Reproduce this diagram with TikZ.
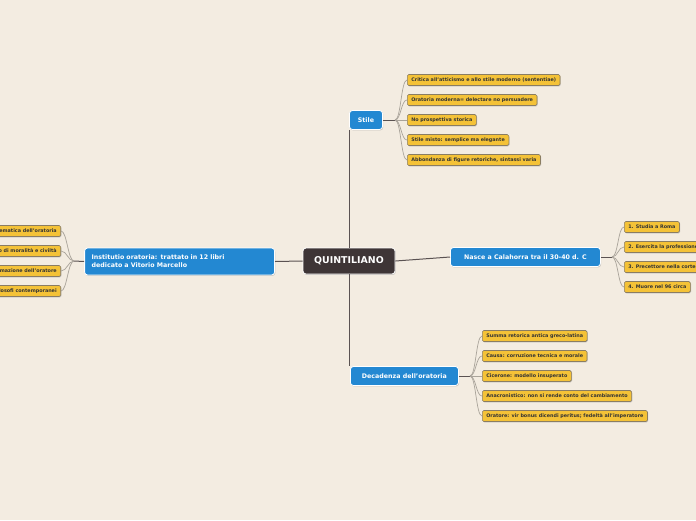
\documentclass[tikz,border=0pt]{standalone}
\usepackage{fontspec}
\setmainfont{DejaVu Sans}
\usetikzlibrary{shadows}
\definecolor{bg}{HTML}{F3ECE1}
\definecolor{leafc}{HTML}{F4C237}
\definecolor{leafb}{HTML}{8A7D62}
\definecolor{blu}{HTML}{2388D2}
\definecolor{dark}{HTML}{3E3536}
\definecolor{mainline}{HTML}{5A5252}
\definecolor{fanline}{HTML}{A9A39A}
\begin{document}
\begin{tikzpicture}[x=1pt,y=-1pt,
  leafbox/.style={draw=leafb, fill=leafc, line width=0.6pt, rounded corners=1.5pt,
    font=\fontsize{4.85}{5}\selectfont\bfseries, text=black!80, inner xsep=4pt, inner ysep=0pt,
    minimum height=11pt,
    drop shadow={shadow xshift=0.7pt, shadow yshift=-0.9pt, fill=black!40, opacity=0.6}},
  bluebox/.style={draw=white, fill=blu, line width=0.8pt, rounded corners=3pt,
    font=\fontsize{6.3}{7.8}\selectfont\bfseries, text=white, inner xsep=7pt, inner ysep=0pt,
    minimum height=19pt,
    drop shadow={shadow xshift=0.7pt, shadow yshift=-0.9pt, fill=black!40, opacity=0.5}},
  centerbox/.style={draw=white, fill=dark, line width=0.8pt, rounded corners=3pt,
    font=\fontsize{9.4}{10}\selectfont\bfseries, text=white, minimum width=92pt, minimum height=26pt,
    drop shadow={shadow xshift=0.7pt, shadow yshift=-0.9pt, fill=black!40, opacity=0.5}},
  mainln/.style={draw=mainline, line width=1pt},
  fanln/.style={draw=fanline, line width=0.7pt}]
\fill[bg] (0,0) rectangle (696,520);
\useasboundingbox (0,0) rectangle (696,520);
\clip (0,0) rectangle (696,520);

% main nodes
\node[centerbox] (q) at (349,261) {QUINTILIANO};
\node[bluebox, minimum width=33pt] (stile) at (366,120) {Stile};
\node[bluebox, anchor=west, minimum width=150pt] (nasce) at (450,257) {Nasce a Calahorra tra il 30-40 d. C};
\node[bluebox, anchor=west, minimum width=108pt] (dec) at (350,376) {Decadenza dell'oratoria};
\node[bluebox, anchor=east, minimum height=27pt, text width=176pt, align=left] (inst) at (275,261.5)
  {Institutio oratoria: trattato in 12 libri\\dedicato a Vitorio Marcello};

% main connectors
\draw[mainln] (q.north) -- (q.north |- stile.south);
\draw[mainln] (q.south) -- (q.south |- dec.north);
\draw[mainln] (q.east) -- (nasce.west);
\draw[mainln] (q.west) -- (inst.east);

% Stile leaves
\node[leafbox, anchor=west] (s1) at (407,80) {Critica all'atticismo e allo stile moderno (sententiae)};
\node[leafbox, anchor=west] (s2) at (407,100) {Oratoria moderna= delectare no persuadere};
\node[leafbox, anchor=west] (s3) at (407,120) {No prospettiva storica};
\node[leafbox, anchor=west] (s4) at (407,140) {Stile misto: semplice ma elegante};
\node[leafbox, anchor=west] (s5) at (407,160) {Abbondanza di figure retoriche, sintassi varia};
\coordinate (sj) at (395,120);
\draw[mainln] (stile.east) -- (sj);
\foreach \n in {s1,s2,s3,s4,s5}
  \draw[fanln] (sj) .. controls +(6,0) and +(-6,0) .. (\n.west);

% Nasce leaves
\node[leafbox, anchor=west] (n1) at (624,227) {1. Studia a Roma};
\node[leafbox, anchor=west] (n2) at (624,247) {2. Esercita la professione di avvocato};
\node[leafbox, anchor=west] (n3) at (624,267) {3. Precettore nella corte imperiale};
\node[leafbox, anchor=west] (n4) at (624,287) {4. Muore nel 96 circa};
\coordinate (nj) at (612,257);
\draw[mainln] (nasce.east) -- (nj);
\foreach \n in {n1,n2,n3,n4}
  \draw[fanln] (nj) .. controls +(6,0) and +(-6,0) .. (\n.west);

% Decadenza leaves
\node[leafbox, anchor=west] (d1) at (482,336) {Summa retorica antica greco-latina};
\node[leafbox, anchor=west] (d2) at (482,356) {Causa: corruzione tecnica e morale};
\node[leafbox, anchor=west] (d3) at (482,376) {Cicerone: modello insuperato};
\node[leafbox, anchor=west] (d4) at (482,396) {Anacronistico: non si rende conto del cambiamento};
\node[leafbox, anchor=west] (d5) at (482,416) {Oratore: vir bonus dicendi peritus; fedeltà all'imperatore};
\coordinate (dj) at (470,376);
\draw[mainln] (dec.east) -- (dj);
\foreach \n in {d1,d2,d3,d4,d5}
  \draw[fanln] (dj) .. controls +(6,0) and +(-6,0) .. (\n.west);

% Institutio leaves
\node[leafbox, anchor=east] (i1) at (61,231) {Trattazione sistematica dell'oratoria};
\node[leafbox, anchor=east] (i2) at (61,251) {Oratore modello di moralità e civiltà};
\node[leafbox, anchor=east] (i3) at (61,271) {Formazione dell'oratore};
\node[leafbox, anchor=east] (i4) at (61,291) {Polemica contro i filosofi contemporanei};
\coordinate (ij) at (74,261);
\draw[mainln] (inst.west) -- (ij);
\foreach \n in {i1,i2,i3,i4}
  \draw[fanln] (ij) .. controls +(-6,0) and +(6,0) .. (\n.east);
\end{tikzpicture}
\end{document}
